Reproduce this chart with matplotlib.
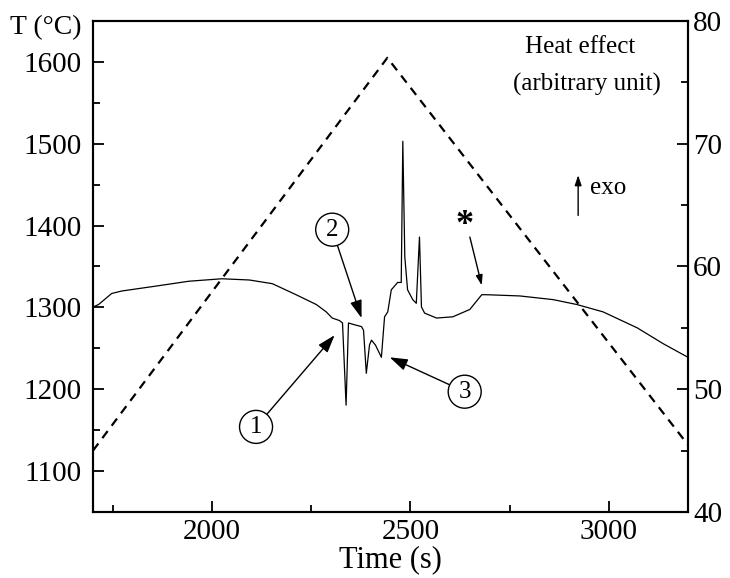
import matplotlib
matplotlib.use("Agg")
import matplotlib.pyplot as plt
from matplotlib.ticker import MultipleLocator

plt.rcParams["font.family"] = ["Liberation Serif", "DejaVu Serif"]

# temperature program (left axis)
temp_time = [1700, 2442, 3200]
temp_vals = [1125, 1605, 1132]

# heat effect trace (right axis, arbitrary unit)
heat_time = [1700, 1714, 1747, 1772, 1858, 1942, 2025, 2094, 2152, 2212,
             2263, 2288, 2303, 2321, 2329, 2338, 2344, 2354, 2377, 2382,
             2389, 2397, 2402, 2412, 2427, 2435, 2443, 2452, 2468, 2477,
             2481, 2486, 2493, 2506, 2515, 2523, 2528, 2536, 2566, 2607,
             2650, 2680, 2692, 2776, 2860, 2920, 2986, 3072, 3138, 3200]
heat_vals = [56.7, 56.9, 57.8, 58.0, 58.4, 58.8, 59.0, 58.9, 58.6, 57.7,
             56.9, 56.3, 55.8, 55.6, 55.4, 48.7, 55.4, 55.3, 55.1, 54.8,
             51.3, 53.6, 54.0, 53.6, 52.6, 55.9, 56.3, 58.1, 58.7, 58.7,
             70.2, 60.8, 58.1, 57.3, 57.0, 62.4, 56.7, 56.2, 55.8, 55.9,
             56.5, 57.7, 57.7, 57.6, 57.3, 56.9, 56.3, 55.0, 53.7, 52.6]

fig = plt.figure(figsize=(7.3, 5.78), dpi=100)
ax = fig.add_axes([0.1274, 0.1142, 0.8151, 0.8495])
ax2 = ax.twinx()

ax.plot(temp_time, temp_vals, color="black", lw=1.6, linestyle=(0, (4, 3)))
ax2.plot(heat_time, heat_vals, color="black", lw=0.9)

ax.set_xlim(1700, 3200)
ax.set_ylim(1050, 1650)
ax2.set_ylim(40, 80)

ax.xaxis.set_major_locator(MultipleLocator(500))
ax.xaxis.set_minor_locator(MultipleLocator(250))
ax.yaxis.set_major_locator(MultipleLocator(100))
ax.yaxis.set_minor_locator(MultipleLocator(50))
ax2.yaxis.set_major_locator(MultipleLocator(10))
ax2.yaxis.set_minor_locator(MultipleLocator(5))

for a in (ax, ax2):
    for s in a.spines.values():
        s.set_linewidth(1.5)
    a.tick_params(which="major", direction="in", length=8, width=1.3, labelsize=21)
    a.tick_params(which="minor", direction="in", length=5, width=1.3)
ax.tick_params(which="both", top=False, right=False)
ax.tick_params(axis="x", pad=5)
ax.tick_params(axis="y", pad=8)

ax.set_xlabel("Time (s)", fontsize=22, labelpad=0)
fig.text(46 / 730, 1 - 28 / 578, "T (°C)", fontsize=20, ha="center", va="center")

ax.text(2928, 1618, "Heat effect", fontsize=18, ha="center", va="center")
ax.text(2946, 1572, "(arbitrary unit)", fontsize=18, ha="center", va="center")
ax.annotate("", xy=(2923, 1465), xytext=(2923, 1409),
            arrowprops=dict(arrowstyle="-|>,head_length=0.6,head_width=0.2",
                            color="black", lw=1))
ax.text(2953, 1446, "exo", fontsize=18, ha="left", va="center")

circ = dict(boxstyle="circle,pad=0.22", fc="white", ec="black", lw=1)
arr = dict(arrowstyle="-|>,head_length=0.6,head_width=0.2", color="black",
           lw=1, shrinkA=0, shrinkB=0)
ax.annotate("1", xy=(2309, 1266), xytext=(2111, 1154), fontsize=18,
            ha="center", va="center", bbox=circ, arrowprops=arr)
ax.annotate("2", xy=(2377, 1287), xytext=(2303, 1395), fontsize=18,
            ha="center", va="center", bbox=circ, arrowprops=arr)
ax.annotate("3", xy=(2448, 1239), xytext=(2637, 1197), fontsize=18,
            ha="center", va="center", bbox=circ, arrowprops=arr)
ax.text(2637, 1400, "*", fontsize=26, fontweight="bold", ha="center", va="center")
ax.annotate("", xy=(2680, 1327), xytext=(2650, 1386), arrowprops=arr)

fig.savefig("out.png", dpi=100)
